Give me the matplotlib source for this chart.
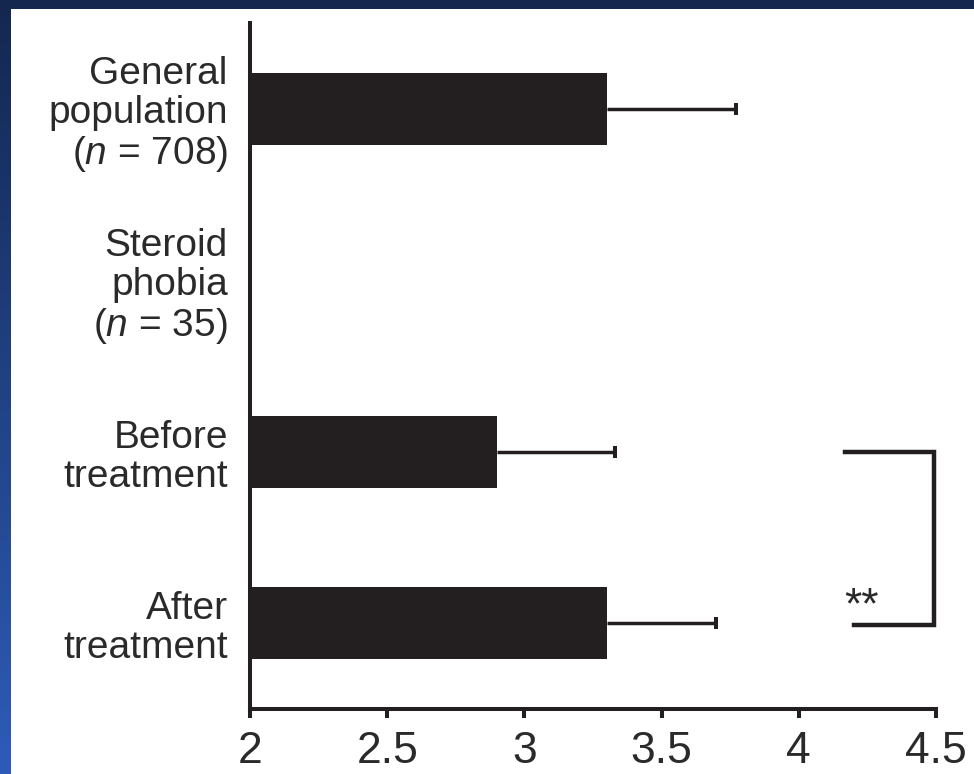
import numpy as np
import matplotlib
matplotlib.use("Agg")
import matplotlib.pyplot as plt
from matplotlib.patches import Rectangle

# ---- data ----
categories = [
    "General\npopulation\n($n$ = 708)",
    "Steroid\nphobia\n($n$ = 35)",
    "Before\ntreatment",
    "After\ntreatment",
]
means = [3.30, np.nan, 2.90, 3.30]      # no bar drawn for steroid phobia
errors = [0.47, np.nan, 0.43, 0.40]
xticks = [2, 2.5, 3, 3.5, 4, 4.5]
xtick_labels = ["2", "2.5", "3", "3.5", "4", "4.5"]
sig_pair = (2, 3)        # bracket between before / after treatment
sig_label = "**"

INK = "#231f20"
TXT = "#2a2a2a"

plt.rcParams["font.family"] = ["Liberation Sans", "DejaVu Sans"]
plt.rcParams["mathtext.fontset"] = "custom"
plt.rcParams["mathtext.rm"] = "Liberation Sans"
plt.rcParams["mathtext.it"] = "Liberation Sans:italic"

fig = plt.figure(figsize=(9.74, 7.74), dpi=100)

# slide background: blue frame on the left / top, white panel
bg = fig.add_axes([0, 0, 1, 1], zorder=-10)
grad = np.linspace(0, 1, 256).reshape(-1, 1)
cmap = matplotlib.colors.LinearSegmentedColormap.from_list("slide", ["#14274f", "#2d5cb8"])
bg.imshow(grad, aspect="auto", cmap=cmap, extent=[0, 1, 0, 1], origin="upper")
bg.add_patch(Rectangle((11 / 974, 0), 1, 1 - 9 / 774, color="white", lw=0))
bg.set_xlim(0, 1)
bg.set_ylim(0, 1)
bg.axis("off")

ax = fig.add_axes([250 / 974, 1 - 709 / 774, 686 / 974, 686 / 774])
ax.set_facecolor("none")

y = np.arange(len(categories))
means_a = np.array(means)
errs_a = np.array(errors)
ok = np.isfinite(means_a)

ax.barh(y[ok], means_a[ok], height=0.42, color=INK, zorder=2)

# one-sided error bars with a small cap
ax.hlines(y[ok], means_a[ok], means_a[ok] + errs_a[ok], color=INK, lw=2.5, zorder=1)
ax.vlines(means_a[ok] + errs_a[ok], y[ok] - 0.035, y[ok] + 0.035, color=INK, lw=2.9, zorder=1)

# significance bracket
y0, y1 = sig_pair
ax.plot([4.17, 4.493, 4.493, 4.20], [y0, y0, y1 + 0.01, y1 + 0.01],
        color=INK, lw=3.2, clip_on=False, solid_joinstyle="miter")
ax.text(4.23, y1 - 0.03, sig_label, ha="center", va="baseline",
        fontsize=32, color=TXT)

ax.set_xlim(2, 4.5)
ax.set_ylim(3.5, -0.5)
ax.set_xticks(xticks)
ax.set_xticklabels(xtick_labels, fontsize=32, color=TXT)
ax.set_yticks(y)
ax.set_yticklabels(categories, fontsize=28, color=TXT, linespacing=1.1)

for side in ("top", "right"):
    ax.spines[side].set_visible(False)
for side in ("left", "bottom"):
    ax.spines[side].set_linewidth(2.9)
    ax.spines[side].set_color(INK)

ax.tick_params(axis="x", direction="out", length=6.5, width=2.9, color=INK, pad=9)
ax.tick_params(axis="y", length=0, pad=16)

fig.savefig("out.png", dpi=100)
